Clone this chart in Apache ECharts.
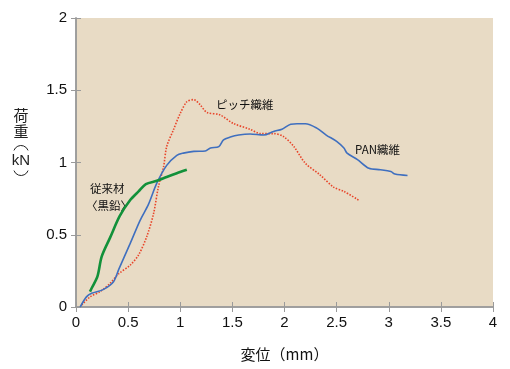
<!DOCTYPE html>
<html><head><meta charset="utf-8">
<script src="https://cdn.jsdelivr.net/npm/echarts@6/dist/echarts.min.js"></script>
<style>html,body{margin:0;padding:0;background:#fff}#c{width:510px;height:369px}</style>
</head><body><div id="c"></div>
<script>
const xTicks = [0, 0.5, 1, 1.5, 2, 2.5, 3, 3.5, 4];
const yTicks = [0, 0.5, 1, 1.5, 2];
const conventional = [[0.134,0.106],[0.15,0.13],[0.205,0.21],[0.247,0.35],[0.327,0.48],[0.42,0.63],[0.52,0.74],[0.6,0.80],[0.67,0.85],[0.775,0.873],[0.87,0.90],[0.967,0.926],[1.063,0.95]];
const pan = [[0.04,0],[0.10,0.07],[0.15,0.095],[0.26,0.12],[0.36,0.175],[0.41,0.26],[0.52,0.44],[0.615,0.60],[0.695,0.71],[0.775,0.857],[0.87,0.98],[0.967,1.05],[1.03,1.065],[1.13,1.077],[1.24,1.08],[1.29,1.10],[1.37,1.11],[1.415,1.157],[1.48,1.176],[1.56,1.19],[1.67,1.197],[1.80,1.19],[1.895,1.215],[1.976,1.23],[2.06,1.265],[2.12,1.268],[2.2,1.268],[2.31,1.238],[2.40,1.19],[2.50,1.146],[2.57,1.1],[2.6,1.065],[2.70,1.02],[2.81,0.96],[2.92,0.95],[3.02,0.937],[3.06,0.92],[3.18,0.91]];
const pitch = [[0.055,0.014],[0.135,0.07],[0.23,0.106],[0.327,0.164],[0.41,0.23],[0.52,0.29],[0.6,0.36],[0.68,0.49],[0.745,0.65],[0.79,0.83],[0.84,0.97],[0.87,1.11],[0.935,1.227],[1.0,1.34],[1.063,1.42],[1.127,1.435],[1.19,1.40],[1.255,1.347],[1.38,1.33],[1.51,1.27],[1.67,1.23],[1.77,1.20],[1.895,1.2],[1.99,1.18],[2.09,1.11],[2.2,0.995],[2.34,0.915],[2.47,0.83],[2.57,0.80],[2.71,0.74]];

const chart = echarts.init(document.getElementById('c'), null, {renderer:'canvas'});
const axisCol = '#9a9a9a';
const font = '"Noto Sans CJK JP", "Noto Sans", sans-serif';
const ha = 70 * Math.PI / 180;
chart.setOption({
  animation:false,
  backgroundColor:'#ffffff',
  grid:{left:76,right:17,top:18,bottom:62,show:true,backgroundColor:'#e8dbc5',borderWidth:0},
  xAxis:[
    {type:'value',min:0,max:4,interval:0.5,position:'bottom',
     axisLine:{show:true,lineStyle:{color:axisCol,width:1.5}},
     axisTick:{show:true,inside:true,length:5,lineStyle:{color:axisCol}},
     splitLine:{show:false},
     axisLabel:{color:'#111',fontSize:15,margin:8,fontFamily:'Liberation Sans, Arial, sans-serif',formatter:v=>String(v)},
     name:'変位（mm）',nameLocation:'middle',nameGap:40,nameTextStyle:{color:'#111',fontSize:15,fontFamily:font}},
    {type:'value',min:0,max:4,interval:0.5,position:'top',
     axisLine:{show:true,lineStyle:{color:axisCol,width:1.5}},
     axisTick:{show:true,inside:true,length:5,lineStyle:{color:axisCol}},
     splitLine:{show:false},axisLabel:{show:false}}
  ],
  yAxis:[
    {type:'value',min:0,max:2,interval:0.5,position:'left',
     axisLine:{show:true,lineStyle:{color:axisCol,width:1.5}},
     axisTick:{show:true,inside:true,length:5,lineStyle:{color:axisCol}},
     splitLine:{show:false},
     axisLabel:{color:'#111',fontSize:15,margin:9,fontFamily:'Liberation Sans, Arial, sans-serif',formatter:v=>String(v)}},
    {type:'value',min:0,max:2,interval:0.5,position:'right',
     axisLine:{show:true,lineStyle:{color:axisCol,width:1.5}},
     axisTick:{show:true,inside:true,length:5,lineStyle:{color:axisCol}},
     splitLine:{show:false},axisLabel:{show:false}}
  ],
  series:[
    {type:'line',data:pitch,showSymbol:false,smooth:0.3,lineStyle:{color:'#e8452a',width:1.6,type:[1.5,1.5]}},
    {type:'line',data:pan,showSymbol:false,smooth:0.3,lineStyle:{color:'#3f6fbf',width:1.6}},
    {type:'line',data:conventional,showSymbol:false,smooth:0.3,lineStyle:{color:'#12913a',width:2.6}}
  ],
  graphic:[
    {type:'text',x:21,y:115,style:{text:'荷',font:'15px '+font,fill:'#222',align:'center',verticalAlign:'middle'}},
    {type:'text',x:21,y:131,style:{text:'重',font:'15px '+font,fill:'#222',align:'center',verticalAlign:'middle'}},
    {type:'arc',shape:{cx:21,cy:153,r:7.5,startAngle:1.5*Math.PI-ha,endAngle:1.5*Math.PI+ha},style:{stroke:'#222',lineWidth:1,fill:null}},
    {type:'text',x:21,y:161,style:{text:'kN',font:'15px Liberation Sans, sans-serif',fill:'#222',align:'center',verticalAlign:'middle'}},
    {type:'arc',shape:{cx:21,cy:168,r:7.5,startAngle:0.5*Math.PI-ha,endAngle:0.5*Math.PI+ha},style:{stroke:'#222',lineWidth:1,fill:null}},
    {type:'text',left:216,top:99,style:{text:'ピッチ織維',font:'11.5px '+font,fill:'#111'}},
    {type:'text',left:355,top:144,style:{text:'PAN織維',font:'11.5px '+font,fill:'#111'}},
    {type:'text',left:90,top:183,style:{text:'従来材',font:'11.5px '+font,fill:'#111'}},
    {type:'text',left:86,top:200,style:{text:'〈黒鉛〉',font:'11.5px '+font,fill:'#111'}}
  ]
});
</script></body></html>
